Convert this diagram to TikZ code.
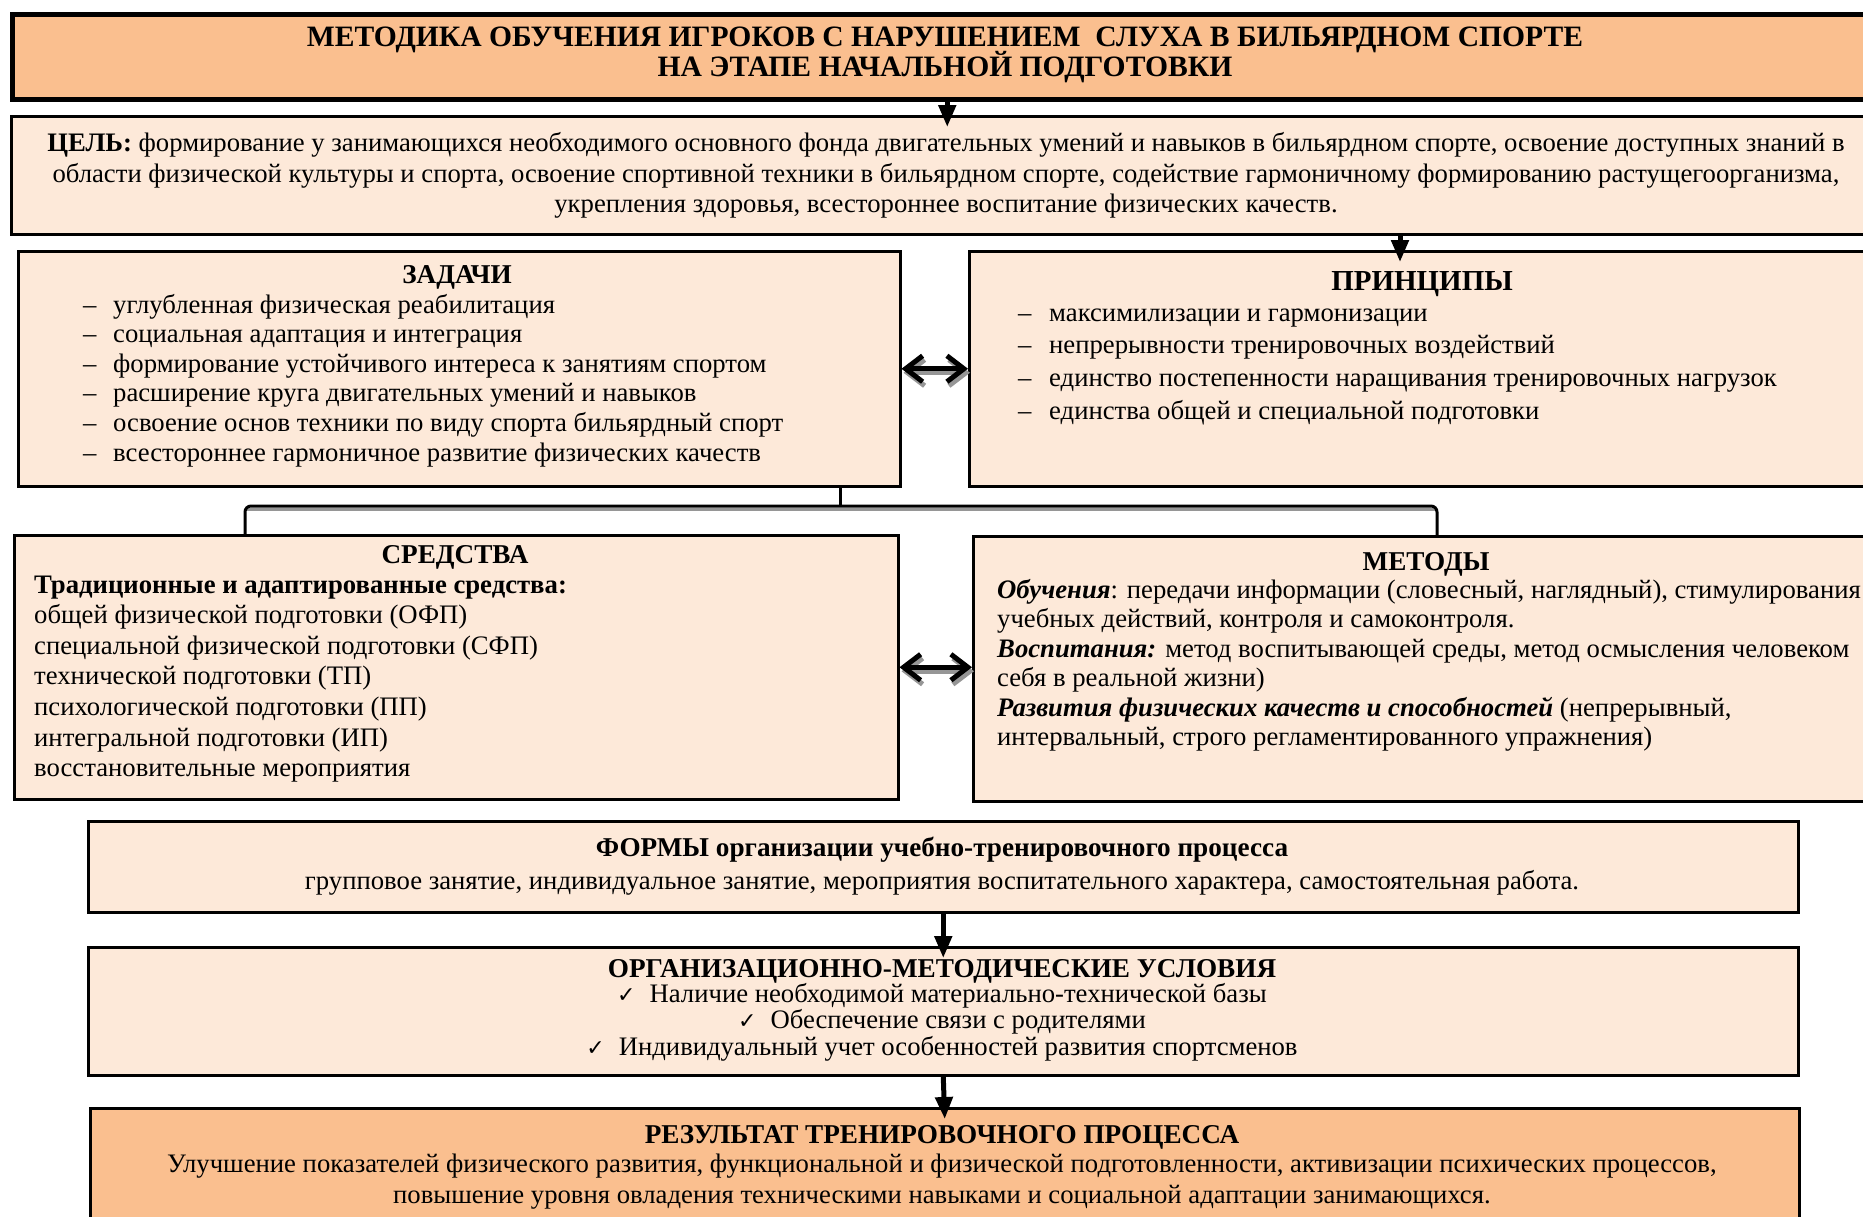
\documentclass[tikz,border=0pt]{standalone}
\usepackage{fontspec}
\setmainfont{Liberation Serif}
\newfontfamily\chkfont{DejaVu Sans}
\usetikzlibrary{arrows.meta,shadows}
\definecolor{orangefill}{HTML}{FABF8F}
\definecolor{lightfill}{HTML}{FDE9D9}
\definecolor{shadowgray}{RGB}{150,150,150}
\newcommand{\fs}[1]{\fontsize{#1}{#1}\selectfont}
\begin{document}
\begin{tikzpicture}[x=1pt,y=-1pt,
  box/.style={draw=black, line width=2.5pt, fill=lightfill, rectangle, inner sep=0pt, anchor=north west,
    general shadow={fill=shadowgray, shadow xshift=2pt, shadow yshift=-2pt}},
  obox/.style={box, fill=orangefill},
  tbox/.style={draw=black, line width=4.5pt, fill=orangefill, rectangle, inner sep=0pt, anchor=north west},
  txt/.style={font=\fs{26.7}, inner sep=0pt, anchor=base},
  htxt/.style={txt, font=\fs{27.2}\bfseries},
  ltxt/.style={txt, anchor=base west},
  darr/.style={line width=5pt, -{Triangle[length=22pt,width=17pt]}},
  dbl/.style={line width=5pt, {Straight Barb[length=17pt,width=26pt]}-{Straight Barb[length=17pt,width=26pt]}},
  brk/.style={line width=3pt}
]
\useasboundingbox (0,0) rectangle (1863,1216);
\clip (0,0) rectangle (1863,1216);
\fill[white] (0,0) rectangle (1863,1216);

% boxes
\node[tbox, minimum width=1870pt, minimum height=85pt] (title) at (10,12) {};
\node[box, minimum width=1872pt, minimum height=118pt] (cel) at (10,115) {};
\node[box, minimum width=882pt, minimum height=235pt] (zad) at (17,250) {};
\node[box, minimum width=912pt, minimum height=235pt] (prin) at (968,250) {};
\node[box, minimum width=884pt, minimum height=264pt] (sred) at (13,534) {};
\node[box, minimum width=908pt, minimum height=265pt] (met) at (972,535) {};
\node[box, minimum width=1710pt, minimum height=91pt] (form) at (87,820) {};
\node[box, minimum width=1710pt, minimum height=128pt] (org) at (87,946) {};
\node[obox, minimum width=1709pt, minimum height=140pt] (rez) at (89,1107) {};

% title
\node[txt, font=\fs{29.6}\bfseries] (t1) at (945,46) {МЕТОДИКА ОБУЧЕНИЯ ИГРОКОВ С НАРУШЕНИЕМ\ \ СЛУХА В БИЛЬЯРДНОМ СПОРТЕ};
\node[txt, font=\fs{29.6}\bfseries] (t2) at (945,76) {НА ЭТАПЕ НАЧАЛЬНОЙ ПОДГОТОВКИ};

% goal
\node[txt] (c1) at (946,151) {\textbf{ЦЕЛЬ:} формирование у занимающихся необходимого основного фонда двигательных умений и навыков в бильярдном спорте, освоение доступных знаний в};
\node[txt] (c2) at (946,182) {области физической культуры и спорта, освоение спортивной техники в бильярдном спорте, содействие гармоничному формированию растущегоорганизма,};
\node[txt] (c3) at (946,212) {укрепления здоровья, всестороннее воспитание физических качеств.};

% tasks
\node[htxt] (zh) at (457,283) {ЗАДАЧИ};
\foreach \t [count=\i] in {
  {углубленная физическая реабилитация},
  {социальная адаптация и интеграция},
  {формирование устойчивого интереса к занятиям спортом},
  {расширение круга двигательных умений и навыков},
  {освоение основ техники по виду спорта бильярдный спорт},
  {всестороннее гармоничное развитие физических качеств}}
  \node[ltxt] (zi\i) at (83,{313+29.6*(\i-1)}) {\makebox[30pt][l]{–}\t};

% principles
\node[txt, font=\fs{29}\bfseries] (ph) at (1422,290) {ПРИНЦИПЫ};
\foreach \t [count=\i] in {
  {максимилизации и гармонизации},
  {непрерывности тренировочных воздействий},
  {единство постепенности наращивания тренировочных нагрузок},
  {единства общей и специальной подготовки}}
  \node[ltxt, font=\fs{26.7}] (pi\i) at (1018,{321+32.9*(\i-1)}) {\makebox[31pt][l]{–}\t};

% means
\node[htxt] (sh) at (455,563) {СРЕДСТВА};
\node[ltxt, font=\fs{26.7}\bfseries] (s0) at (34,593) {Традиционные и адаптированные средства:};
\foreach \t [count=\i] in {
  {общей физической подготовки (ОФП)},
  {специальной физической подготовки (СФП)},
  {технической подготовки (ТП)},
  {психологической подготовки (ПП)},
  {интегральной подготовки (ИП)},
  {восстановительные мероприятия}}
  \node[ltxt] (s\i) at (34,{593+30.6*\i}) {\t};

% methods
\node[htxt] (mh) at (1426,570) {МЕТОДЫ};
\node[ltxt] (m1) at (997,598) {\textbf{\textit{Обучения}}: передачи информации (словесный, наглядный), стимулирования};
\node[ltxt] (m2) at (997,627.5) {учебных действий, контроля и самоконтроля.};
\node[ltxt] (m3) at (997,657) {\textbf{\textit{Воспитания:}} метод воспитывающей среды, метод осмысления человеком};
\node[ltxt] (m4) at (997,686.5) {себя в реальной жизни)};
\node[ltxt] (m5) at (997,716) {\textbf{\textit{Развития физических качеств и способностей}} (непрерывный,};
\node[ltxt] (m6) at (997,745.5) {интервальный, строго регламентированного упражнения)};

% forms
\node[htxt] (fh) at (942,856) {ФОРМЫ организации учебно-тренировочного процесса};
\node[txt] (f1) at (942,889) {групповое занятие, индивидуальное занятие, мероприятия воспитательного характера, самостоятельная работа.};

% conditions
\node[htxt] (oh) at (942,977) {ОРГАНИЗАЦИОННО-МЕТОДИЧЕСКИЕ УСЛОВИЯ};
\node[txt] (o1) at (942,1002) {{\chkfont\fs{22}✓}\hspace{14pt}Наличие необходимой материально-технической базы};
\node[txt] (o2) at (942,1028) {{\chkfont\fs{22}✓}\hspace{14pt}Обеспечение связи с родителями};
\node[txt] (o3) at (942,1055) {{\chkfont\fs{22}✓}\hspace{14pt}Индивидуальный учет особенностей развития спортсменов};

% result
\node[htxt] (rh) at (942,1143) {РЕЗУЛЬТАТ ТРЕНИРОВОЧНОГО ПРОЦЕССА};
\node[txt] (r1) at (942,1172) {Улучшение показателей физического развития, функциональной и физической подготовленности, активизации психических процессов,};
\node[txt] (r2) at (942,1203) {повышение уровня овладения техническими навыками и социальной адаптации занимающихся.};

% vertical arrows
\draw[darr] (title.south) -- ([yshift=-12pt]cel.north);
\coordinate (pa) at (1400,0);
\path (prin.north -| pa) coordinate (pb);
\draw[darr] (cel.south -| pa) -- ([yshift=-12pt]pb);
\draw[darr] (form.south) -- ([yshift=-12pt]org.north);
\draw[darr] (org.south) -- ([yshift=-12pt]rez.north);

% double arrows
\begin{scope}[transform canvas={shift={(2pt,-4pt)}}]
\draw[dbl, shadowgray] (zad.east) -- (zad.east -| prin.west);
\draw[dbl, shadowgray] (sred.east) -- (sred.east -| met.west);
\end{scope}
\draw[dbl] (zad.east) -- (zad.east -| prin.west);
\draw[dbl] (sred.east) -- (sred.east -| met.west);

% bracket
\coordinate (jn) at (840,506);
\coordinate (bxl) at (245,506);
\coordinate (bxr) at (1437,506);
\draw[brk, shadowgray, rounded corners=6pt, transform canvas={shift={(0pt,-3pt)}}] (bxl) -- (bxr);
\draw[brk] (zad.south -| jn) -- (jn);
\draw[brk, rounded corners=6pt] (sred.north -| bxl) -- (bxl) -- (bxr) -- (met.north -| bxr);
\end{tikzpicture}
\end{document}
